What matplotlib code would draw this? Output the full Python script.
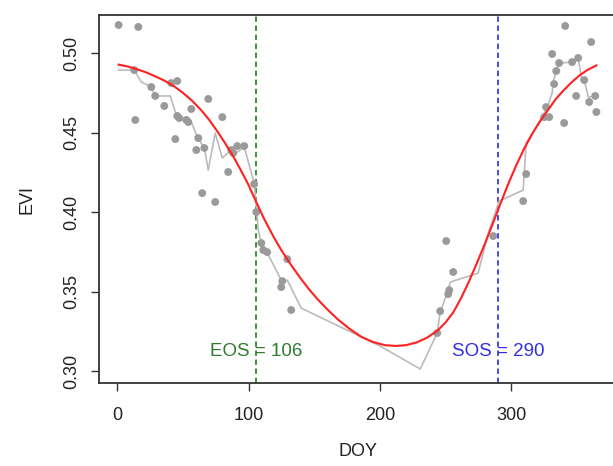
import matplotlib
matplotlib.use("Agg")
import matplotlib.pyplot as plt

plt.rcParams['font.family'] = ['Liberation Sans', 'DejaVu Sans']

# observed EVI values (day of year, EVI)
obs_doy = [1, 16, 12.9, 25.9, 28.9, 35.8, 41.1, 45.7, 13.7, 44.2,
           45.7, 47.2, 52.6, 54.1, 56.4, 61.7, 60.2, 66.3, 69.3, 80.0,
           84.5, 86.8, 88.3, 91.4, 96.7, 64.7, 74.6, 104.3, 105.9, 109.7,
           111.2, 114.2, 129.5, 125.7, 124.9, 132.5, 243.7, 246.0, 252.1, 252.9,
           255.9, 250.6, 286.4, 309.2, 311.5, 325.2, 326.7, 329.0, 340.4, 332.8,
           334.4, 331.3, 336.6, 346.5, 351.1, 341.2, 361.0, 355.7, 349.6, 364.1,
           359.5, 365]
obs_evi = [0.5176, 0.5164, 0.4893, 0.4786, 0.4730, 0.4667, 0.4811, 0.4824, 0.4579, 0.4459,
           0.4604, 0.4591, 0.4579, 0.4566, 0.4648, 0.4465, 0.4390, 0.4403, 0.4711, 0.4597,
           0.4252, 0.4390, 0.4371, 0.4415, 0.4415, 0.4119, 0.4063, 0.4176, 0.4000, 0.3805,
           0.3761, 0.3748, 0.3704, 0.3566, 0.3528, 0.3384, 0.3239, 0.3377, 0.3484, 0.3509,
           0.3623, 0.3818, 0.3849, 0.4069, 0.4239, 0.4597, 0.4660, 0.4597, 0.4560, 0.4805,
           0.4887, 0.4994, 0.4937, 0.4943, 0.4969, 0.5170, 0.5069, 0.4830, 0.4730, 0.4730,
           0.4692, 0.4629]

# smoothed series (gray line)
smooth_doy = [1, 12.9, 18.3, 25.9, 28.9, 40.4, 44.9, 52.6, 56.4, 60.9,
              66.3, 69.3, 74.6, 80.0, 86.8, 91.4, 96.7, 104.3, 105.9, 107.4,
              109.7, 113.5, 125.7, 129.5, 140.1, 200.3, 230.8, 243.7, 246.0, 252.1,
              253.6, 274.9, 282.6, 290.9, 309.2, 311.5, 323.7, 327.5, 331.3, 332.1,
              334.4, 336.6, 346.5, 351.1, 354.1, 355.7, 358.8, 364.1]
smooth_evi = [0.4893, 0.4893, 0.4818, 0.4786, 0.4730, 0.4730, 0.4610, 0.4579, 0.4566, 0.4472,
              0.4403, 0.4264, 0.4497, 0.4340, 0.4390, 0.4377, 0.4409, 0.4182, 0.4031, 0.3887,
              0.3805, 0.3755, 0.3560, 0.3572, 0.3396, 0.3157, 0.3013, 0.3239, 0.3371, 0.3509,
              0.3560, 0.3616, 0.3868, 0.4069, 0.4138, 0.4434, 0.4597, 0.4660, 0.4748, 0.4818,
              0.4887, 0.4937, 0.4943, 0.4969, 0.4818, 0.4830, 0.4723, 0.4730]

# fitted curve (red)
fit_doy = [1, 8, 15, 22, 29, 36, 43, 50, 57, 64,
           70, 76, 82, 88, 94, 100, 106, 112, 119, 125,
           132, 139, 146, 153, 160, 168, 177, 186, 195, 204,
           212, 220, 228, 236, 244, 250, 256, 262, 268, 274,
           280, 286, 292, 298, 304, 310, 316, 322, 328, 334,
           340, 346, 352, 358, 365]
fit_evi = [0.4927, 0.4915, 0.4898, 0.4878, 0.4853, 0.4826, 0.4792, 0.4750, 0.4700, 0.4640,
           0.4580, 0.4510, 0.4435, 0.4355, 0.4265, 0.4170, 0.4060, 0.3955, 0.3845, 0.3760,
           0.3672, 0.3590, 0.3515, 0.3448, 0.3388, 0.3325, 0.3265, 0.3215, 0.3182, 0.3163,
           0.3158, 0.3163, 0.3180, 0.3210, 0.3255, 0.3305, 0.3370, 0.3460, 0.3565, 0.3680,
           0.3800, 0.3925, 0.4055, 0.4180, 0.4295, 0.4400, 0.4490, 0.4570, 0.4640, 0.4710,
           0.4765, 0.4815, 0.4858, 0.4893, 0.4922]

eos = 106
sos = 290

fig = plt.figure(figsize=(6.13, 4.66), dpi=100)
ax = fig.add_axes([0.1623, 0.1781, 0.8418, 0.7897])

ax.plot(smooth_doy, smooth_evi, color='#bbbbbb', lw=1.2, zorder=2)
ax.scatter(obs_doy, obs_evi, s=32, color='#9a9a9a', edgecolors='none', zorder=3)
ax.plot(fit_doy, fit_evi, color='#ff2020', lw=1.5, zorder=4)

ax.axvline(eos, color='#2e8b2e', lw=1.3, ls=(0, (3, 2)), zorder=1)
ax.axvline(sos, color='#3a3ae8', lw=1.3, ls=(0, (3, 2)), zorder=1)
ax.text(eos, 0.312, 'EOS = 106', color='#2e7d2e', fontsize=13.5,
        ha='center', va='center', zorder=5)
ax.text(sos, 0.312, 'SOS = 290', color='#3030e0', fontsize=13.5,
        ha='center', va='center', zorder=5)

ax.set_xlim(-13.56, 379.56)
ax.set_ylim(0.2925, 0.5239)
ax.set_xticks([0, 100, 200, 300])
ax.set_yticks([0.30, 0.35, 0.40, 0.45, 0.50])
ax.set_yticklabels(['0.30', '0.35', '0.40', '0.45', '0.50'], rotation=90, va='center')
ax.tick_params(axis='both', direction='out', length=6, width=1, color='#333333',
               labelsize=13, labelcolor='#222222')
ax.tick_params(axis='x', pad=11)
ax.tick_params(axis='y', pad=8)

for s in ax.spines.values():
    s.set_color('#333333')
    s.set_linewidth(1.3)

ax.set_xlabel('DOY', fontsize=13, color='#222222', labelpad=14)
ax.set_ylabel('EVI', fontsize=13, color='#222222', labelpad=20)

fig.savefig('out.png', dpi=100)
